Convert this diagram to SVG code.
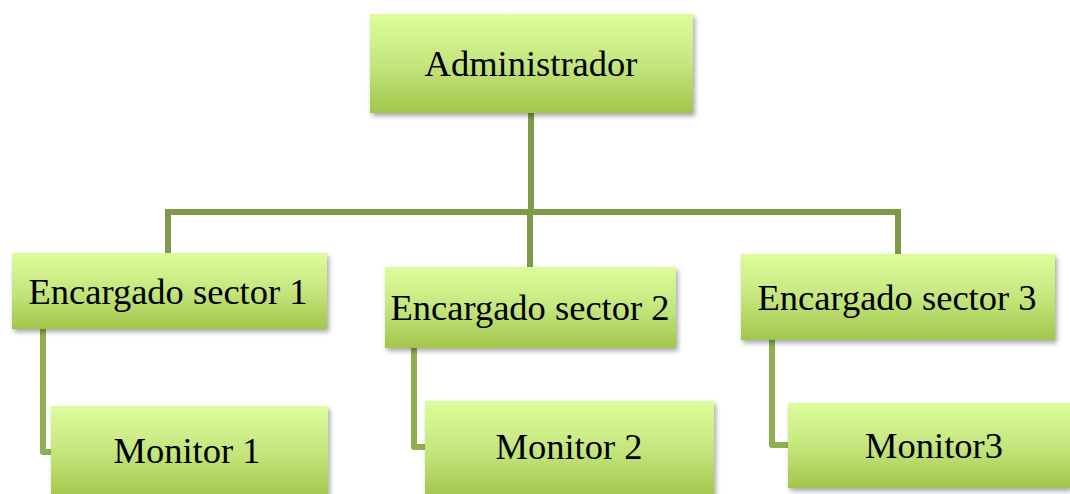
<svg xmlns="http://www.w3.org/2000/svg" width="1070" height="494" viewBox="0 0 1070 494">
<defs>
<linearGradient id="g" x1="0" y1="0" x2="0" y2="1">
<stop offset="0" stop-color="#dcfd9b"/>
<stop offset="0.5" stop-color="#c5e67e"/>
<stop offset="1" stop-color="#a2c64b"/>
</linearGradient>
<filter id="sh" x="-5%" y="-10%" width="115%" height="130%">
<feDropShadow dx="2" dy="3" stdDeviation="2.5" flood-color="#000" flood-opacity="0.35"/>
</filter>
</defs>
<style>
.box{fill:url(#g);filter:url(#sh)}
.t{font-family:"Liberation Serif","Times New Roman",serif;font-size:36.5px;fill:#000;text-anchor:middle}
.c1{fill:none;stroke:#7f9a48;stroke-width:6}
.c2{fill:none;stroke:#8fb04f;stroke-width:6;stroke-linejoin:round}
</style>
<rect width="1070" height="494" fill="#fff"/>
<g id="connectors">
<path class="c1" d="M531 113 V212"/>
<path class="c1" d="M168 253 V212 H898 V254"/>
<path class="c1" d="M530 212 V267"/>
<path class="c2" d="M43 329 V452 H52"/>
<path class="c2" d="M414 348 V447 H426"/>
<path class="c2" d="M772 340 V445 H789"/>
</g>
<g id="admin">
<rect class="box" x="370" y="14" width="323" height="99"/>
<text class="t" x="531" y="76">Administrador</text>
</g>
<g id="enc1">
<rect class="box" x="12" y="253" width="315" height="76"/>
<text class="t" x="168" y="304">Encargado sector 1</text>
</g>
<g id="enc2">
<rect class="box" x="385" y="267" width="291" height="81"/>
<text class="t" x="530" y="320">Encargado sector 2</text>
</g>
<g id="enc3">
<rect class="box" x="741" y="254" width="314" height="86"/>
<text class="t" x="897" y="310">Encargado sector 3</text>
</g>
<g id="mon1">
<rect class="box" x="51" y="406" width="277" height="92"/>
<text class="t" x="187" y="463">Monitor 1</text>
</g>
<g id="mon2">
<rect class="box" x="425" y="401" width="289" height="97"/>
<text class="t" x="569" y="459">Monitor 2</text>
</g>
<g id="mon3">
<rect class="box" x="788" y="403" width="282" height="85"/>
<text class="t" x="934" y="458">Monitor3</text>
</g>
</svg>
